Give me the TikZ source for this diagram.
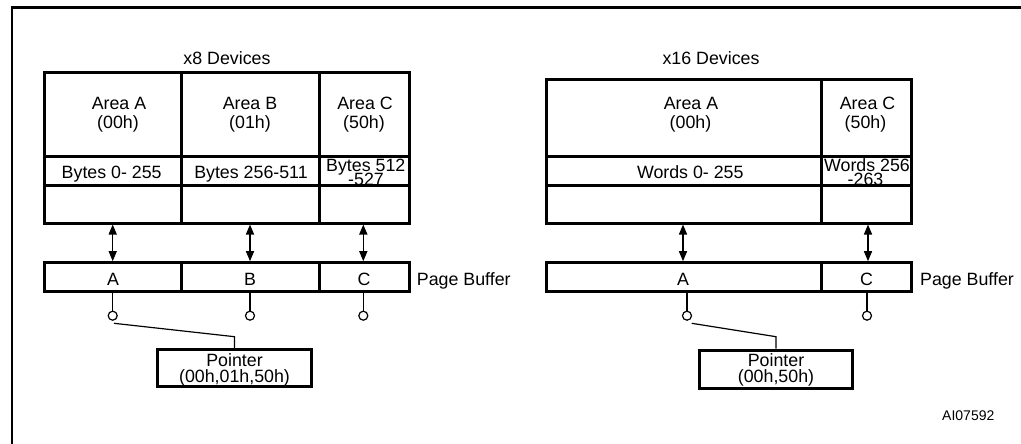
\documentclass[tikz,border=0pt]{standalone}
\usepackage{fontspec}
\setmainfont{Liberation Sans}
\usetikzlibrary{arrows.meta}
\begin{document}
\begin{tikzpicture}[x=1pt,y=-1pt,
  cell/.style={draw,line width=3pt,inner sep=0pt},
  wcell/.style={cell,fill=white},
  lbl/.style={font=\fontsize{17.8}{19}\selectfont,inner sep=0pt,anchor=base},
  small/.style={font=\fontsize{14}{16}\selectfont,inner sep=0pt,anchor=base},
  dbl/.style={{Triangle[length=10pt,width=8pt]}-{Triangle[length=10pt,width=8pt]},line width=1.4pt},
  thinline/.style={line width=1.2pt},
  pin/.style={circle,draw,line width=1.2pt,minimum size=9pt,inner sep=0pt,fill=white}]
\useasboundingbox (0,0) rectangle (1021,444);
% frame
\draw[line width=2.5pt] (1040,7.5) -- (12,7.5) -- (12,470);

% ---------------- x8 devices ----------------
\node[lbl] (L-title) at (227,64.5) {x8 Devices};
\node[cell,minimum width=137.7pt,minimum height=83pt] (L-tA) at (112.85,114.5) {};
\node[cell,minimum width=137.3pt,minimum height=83pt] (L-tB) at (250.35,114.5) {};
\node[cell,minimum width=90pt,minimum height=83pt] (L-tC) at (364,114.5) {};
\node[cell,minimum width=137.7pt,minimum height=29pt] (L-mA) at (112.85,170.5) {};
\node[cell,minimum width=137.3pt,minimum height=29pt] (L-mB) at (250.35,170.5) {};
\node[cell,minimum width=90pt,minimum height=29pt] (L-mC) at (364,170.5) {};
\node[lbl] (L-aA1) at (119,109.5) {Area A};
\node[lbl] (L-aA2) at (118,128.5) {(00h)};
\node[lbl] (L-aB1) at (250,109.5) {Area B};
\node[lbl] (L-aB2) at (250,128.5) {(01h)};
\node[lbl] (L-aC1) at (365,109.5) {Area C};
\node[lbl] (L-aC2) at (364,128.5) {(50h)};
\node[lbl] (L-bA) at (111.7,178.3) {Bytes 0- 255};
\node[lbl] (L-bB) at (251,178.3) {Bytes 256-511};
\node[lbl] (L-bC1) at (365.8,171.5) {Bytes 512};
\node[lbl] (L-bC2) at (366,185.5) {-527};
\node[wcell,minimum width=137.7pt,minimum height=38pt] (L-eA) at (112.85,204) {};
\node[wcell,minimum width=137.3pt,minimum height=38pt] (L-eB) at (250.35,204) {};
\node[wcell,minimum width=90pt,minimum height=38pt] (L-eC) at (364,204) {};
% page buffer
\node[cell,minimum width=137.7pt,minimum height=29pt] (L-pA) at (112.85,277.2) {};
\node[cell,minimum width=137.3pt,minimum height=29pt] (L-pB) at (250.35,277.2) {};
\node[cell,minimum width=90pt,minimum height=29pt] (L-pC) at (364,277.2) {};
\node[lbl] (L-lA) at (113,285) {A};
\node[lbl] (L-lB) at (250,285) {B};
\node[lbl] (L-lC) at (364,285) {C};
\node[lbl,anchor=base west] (L-pb) at (416.7,285) {Page Buffer};
% arrows
\coordinate (L-xA) at (112.7,0);
\coordinate (L-xB) at (250,0);
\coordinate (L-xC) at (363.3,0);
\draw[dbl] (L-eA.south -| L-xA) -- (L-pA.north -| L-xA);
\draw[dbl] (L-eB.south -| L-xB) -- (L-pB.north -| L-xB);
\draw[dbl] (L-eC.south -| L-xC) -- (L-pC.north -| L-xC);
% pins
\node[pin] (L-oA) at (112.7,315.7) {};
\node[pin] (L-oB) at (250,315.7) {};
\node[pin] (L-oC) at (363.3,315.7) {};
\draw[thinline] (L-pA.south -| L-oA) -- (L-oA.north);
\draw[thinline] (L-pB.south -| L-oB) -- (L-oB.north);
\draw[thinline] (L-pC.south -| L-oC) -- (L-oC.north);
% pointer
\node[cell,minimum width=154.4pt,minimum height=37.4pt] (L-ptr) at (234.5,368) {};
\node[lbl] (L-ptr1) at (234.5,366.8) {Pointer};
\node[lbl] (L-ptr2) at (234.5,382) {(00h,01h,50h)};
\coordinate (L-k1) at (114,323.3);
\coordinate (L-k2) at (234.5,336.7);
\draw[thinline] (L-k1) -- (L-k2) -- (L-ptr.north);

% ---------------- x16 devices ----------------
\node[lbl] (R-title) at (711,64.5) {x16 Devices};
\node[cell,minimum width=275.5pt,minimum height=76pt] (R-tA) at (683.75,118) {};
\node[cell,minimum width=89.5pt,minimum height=76pt] (R-tC) at (866.25,118) {};
\node[cell,minimum width=275.5pt,minimum height=29pt] (R-mA) at (683.75,170.5) {};
\node[cell,minimum width=89.5pt,minimum height=29pt] (R-mC) at (866.25,170.5) {};
\node[lbl] (R-aA1) at (691,109.5) {Area A};
\node[lbl] (R-aA2) at (690.5,128.5) {(00h)};
\node[lbl] (R-aC1) at (867.5,109.5) {Area C};
\node[lbl] (R-aC2) at (865.5,128.5) {(50h)};
\node[lbl] (R-wA) at (690.3,178.3) {Words 0- 255};
\node[lbl] (R-wC1) at (867,171.5) {Words 256};
\node[lbl] (R-wC2) at (865.5,185.5) {-263};
\node[wcell,minimum width=275.5pt,minimum height=38pt] (R-eA) at (683.75,204) {};
\node[wcell,minimum width=89.5pt,minimum height=38pt] (R-eC) at (866.25,204) {};
% page buffer
\node[cell,minimum width=275.5pt,minimum height=29pt] (R-pA) at (683.75,277.2) {};
\node[cell,minimum width=89.5pt,minimum height=29pt] (R-pC) at (866.25,277.2) {};
\node[lbl] (R-lA) at (683,285) {A};
\node[lbl] (R-lC) at (866.5,285) {C};
\node[lbl,anchor=base west] (R-pb) at (920,285) {Page Buffer};
% arrows
\coordinate (R-xA) at (683,0);
\coordinate (R-xC) at (868,0);
\draw[dbl] (R-eA.south -| R-xA) -- (R-pA.north -| R-xA);
\draw[dbl] (R-eC.south -| R-xC) -- (R-pC.north -| R-xC);
% pins
\node[pin] (R-oA) at (687,315.7) {};
\node[pin] (R-oC) at (867,315.7) {};
\draw[thinline] (R-pA.south -| R-oA) -- (R-oA.north);
\draw[thinline] (R-pC.south -| R-oC) -- (R-oC.north);
% pointer
\node[cell,minimum width=153.4pt,minimum height=38.3pt] (R-ptr) at (776,369.15) {};
\node[lbl] (R-ptr1) at (776,366.3) {Pointer};
\node[lbl] (R-ptr2) at (776,382) {(00h,50h)};
\coordinate (R-k1) at (691.7,323.3);
\coordinate (R-k2) at (776,336.7);
\draw[thinline] (R-k1) -- (R-k2) -- (R-ptr.north);

\node[small] (code) at (968.3,420) {AI07592};
\end{tikzpicture}
\end{document}
